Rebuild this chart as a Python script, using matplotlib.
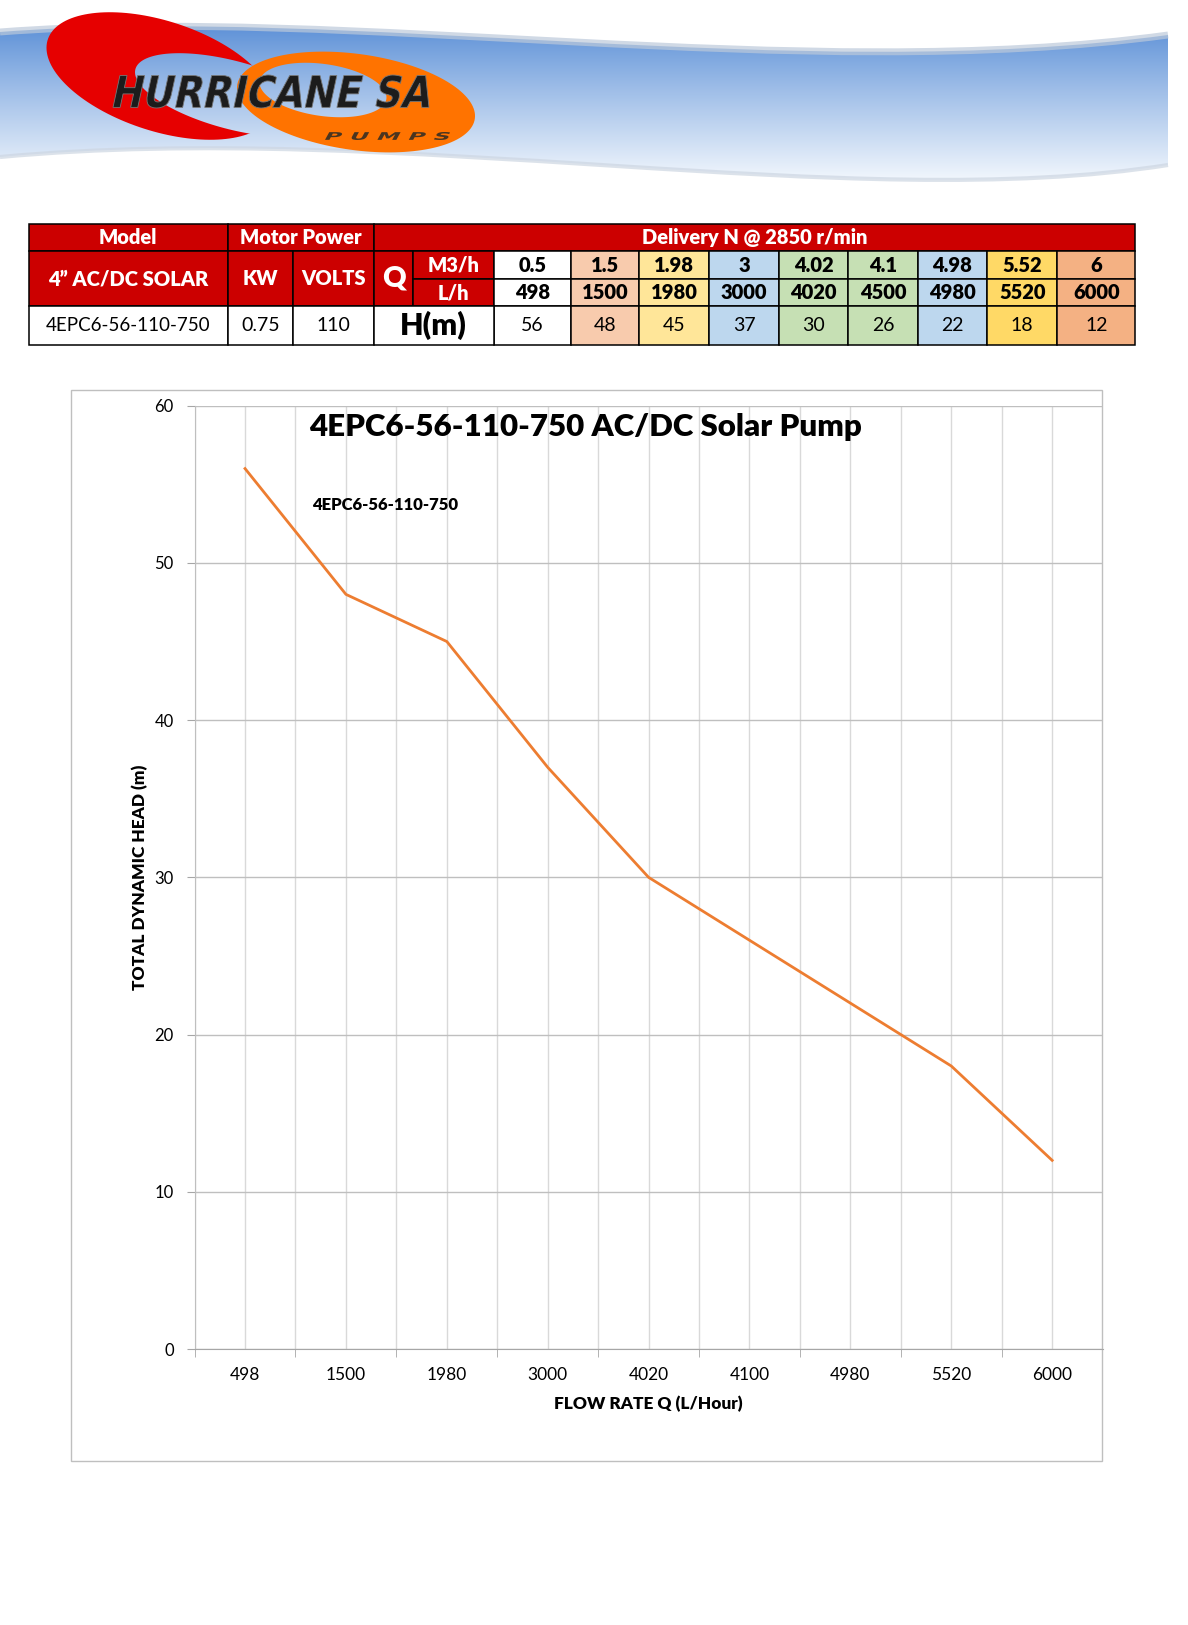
import numpy as np
import matplotlib.pyplot as plt
from matplotlib.patches import Rectangle, PathPatch, Polygon
from matplotlib.path import Path
from matplotlib.textpath import TextPath
from matplotlib.font_manager import FontProperties
from matplotlib.transforms import Affine2D

plt.rcParams['font.family'] = ['Lato', 'DejaVu Sans']

# data
model = '4EPC6-56-110-750'
kw = '0.75'
volts = '110'
flow_m3h = ['0.5', '1.5', '1.98', '3', '4.02', '4.1', '4.98', '5.52', '6']
flow_lh = ['498', '1500', '1980', '3000', '4020', '4500', '4980', '5520', '6000']
head_m = [56, 48, 45, 37, 30, 26, 22, 18, 12]
chart_flow = ['498', '1500', '1980', '3000', '4020', '4100', '4980', '5520', '6000']
col_colors = ['#FFFFFF', '#F8CBAD', '#FFE699', '#BDD7EE', '#C6E0B4',
              '#C6E0B4', '#BDD7EE', '#FFD966', '#F4B183']

W, H = 1188, 1625
RED = '#CC0000'

fig = plt.figure(figsize=(W / 100, H / 100), dpi=100)
bg = fig.add_axes([0, 0, 1, 1])
bg.set_xlim(0, W)
bg.set_ylim(H, 0)
bg.axis('off')

# --- banner ---
verts = [(0, 32), (350, 5), (800, 85), (1168, 35),
         (1168, 165), (850, 215), (400, 120), (0, 157), (0, 32)]
codes = [Path.MOVETO, Path.CURVE4, Path.CURVE4, Path.CURVE4,
         Path.LINETO, Path.CURVE4, Path.CURVE4, Path.CURVE4, Path.CLOSEPOLY]
wave = Path(verts, codes)
g = np.linspace(0, 1, 256)[:, None] ** 0.9
c0 = np.array([0.31, 0.53, 0.83])
c1 = np.array([0.98, 0.99, 1.0])
img = c0 + (c1 - c0) * g[..., None]
im = bg.imshow(img, extent=(0, 1168, 190, 15), aspect='auto', zorder=1)
im.set_clip_path(PathPatch(wave, transform=bg.transData))
edge_top = Path(verts[:4], codes[:4])
edge_bot = Path(verts[4:8], [Path.MOVETO] + codes[5:8])
bg.add_patch(PathPatch(edge_top, fill=False, ec='#bcc9da', lw=5, alpha=0.7, zorder=2))
bg.add_patch(PathPatch(edge_bot, fill=False, ec='#cdd6e2', lw=3, alpha=0.7, zorder=2))
bg.set_xlim(0, W)
bg.set_ylim(H, 0)


def ellipse_pts(cx, cy, a, b, ang, rev=False):
    t = np.linspace(0, 2 * np.pi, 150)
    if rev:
        t = t[::-1]
    p = np.radians(ang)
    x = cx + a * np.cos(t) * np.cos(p) - b * np.sin(t) * np.sin(p)
    y = cy + a * np.cos(t) * np.sin(p) + b * np.sin(t) * np.cos(p)
    return np.column_stack([x, y])


def crescent(outer, hole, color):
    poly = Polygon(ellipse_pts(*outer), closed=True, fc=color, ec='none', zorder=3)
    bg.add_patch(poly)
    box = np.array([(0, 0), (W, 0), (W, H), (0, H), (0, 0)])
    hp = ellipse_pts(*hole, rev=True)
    v = np.vstack([box, hp])
    c = [Path.MOVETO] + [Path.LINETO] * 3 + [Path.CLOSEPOLY] + \
        [Path.MOVETO] + [Path.LINETO] * (len(hp) - 2) + [Path.CLOSEPOLY]
    poly.set_clip_path(PathPatch(Path(v, c), transform=bg.transData))


crescent((356, 102, 120, 48, 8), (323, 90, 64, 26, 8), '#FF7300')
crescent((160, 76, 118, 55, 18), (232, 95, 100, 34, 15), '#E60000')


def fit_text(s, x0, y0, x1, y1, color, ec, slant=14):
    fp = FontProperties(family='DejaVu Sans', weight='bold')
    p = TextPath((0, 0), s, size=10, prop=fp)
    p = Affine2D().skew_deg(slant, 0).transform_path(p)
    bb = p.get_extents()
    tr = Affine2D().translate(-bb.x0, -bb.y0) \
        .scale((x1 - x0) / bb.width, -(y1 - y0) / bb.height).translate(x0, y1)
    bg.add_patch(PathPatch(tr.transform_path(p), fc=color, ec=ec, lw=0.6, zorder=4))


fit_text('HURRICANE SA', 113, 75, 429, 108, '#1c1c1c', '#777777')
fit_text('P U M P S', 325, 132, 450, 140, '#4a3520', 'none')

# --- table ---
xs = [28.7, 227.7, 292.8, 373.9, 413.3, 493.7, 571, 639.3, 709.1, 778.9,
      848.3, 917.7, 987.1, 1057.3, 1135.3]
ys = [224, 251.3, 279, 306, 345.3]


def cell(x0, x1, y0, y1, fc, text='', color='black', size=13.5, weight='normal'):
    bg.add_patch(Rectangle((x0, y0), x1 - x0, y1 - y0, fc=fc, ec='black', lw=1.1, zorder=2))
    if text:
        bg.text((x0 + x1) / 2, (y0 + y1) / 2, text, ha='center', va='center',
                color=color, fontsize=size, fontweight=weight, zorder=3)


hdr = dict(color='white', weight='heavy', size=14.5)
cell(xs[0], xs[1], ys[0], ys[1], RED, 'Model', **hdr)
cell(xs[1], xs[3], ys[0], ys[1], RED, 'Motor Power', **hdr)
cell(xs[3], xs[-1], ys[0], ys[1], RED, 'Delivery N @ 2850 r/min', **hdr)
cell(xs[0], xs[1], ys[1], ys[3], RED, '4\u201d AC/DC SOLAR', **hdr)
cell(xs[1], xs[2], ys[1], ys[3], RED, 'KW', **hdr)
cell(xs[2], xs[3], ys[1], ys[3], RED, 'VOLTS', **hdr)
cell(xs[3], xs[4], ys[1], ys[3], RED, 'Q', color='white', weight='heavy', size=21)
cell(xs[4], xs[5], ys[1], ys[2], RED, 'M3/h', **hdr)
cell(xs[4], xs[5], ys[2], ys[3], RED, 'L/h', **hdr)
for i in range(len(flow_m3h)):
    cell(xs[5 + i], xs[6 + i], ys[1], ys[2], col_colors[i], flow_m3h[i], size=14.5, weight='heavy')
    cell(xs[5 + i], xs[6 + i], ys[2], ys[3], col_colors[i], flow_lh[i], size=14.5, weight='heavy')
    cell(xs[5 + i], xs[6 + i], ys[3], ys[4], col_colors[i], str(head_m[i]), size=14)
cell(xs[0], xs[1], ys[3], ys[4], 'white', model)
cell(xs[1], xs[2], ys[3], ys[4], 'white', kw, size=14)
cell(xs[2], xs[3], ys[3], ys[4], 'white', volts, size=14)
cell(xs[3], xs[5], ys[3], ys[4], 'white', 'H(m)', size=22, weight='heavy')

# --- chart ---
bg.add_patch(Rectangle((70.5, 390), 1031.5, 1071, fill=False, ec='#bfbfbf', lw=1.0))

L, R, T, B = 194.6, 1102.6, 405.7, 1349
ax = fig.add_axes([L / W, 1 - B / H, (R - L) / W, (B - T) / H])
ax.set_facecolor('none')
x = np.arange(len(head_m))
ax.plot(x, head_m, color='#ED7D31', lw=2, zorder=3)
ax.set_xlim(-0.5, len(x) - 0.5)
ax.set_ylim(0, 60)
ax.set_yticks(range(0, 61, 10))
ax.set_xticks(x, chart_flow)
ax.set_xticks(np.arange(-0.5, len(x) - 1), minor=True)
ax.tick_params(axis='x', which='major', length=0, pad=13, labelsize=12.5)
ax.tick_params(axis='x', which='minor', length=6, color='#a6a6a6')
ax.tick_params(axis='y', length=6, color='#a6a6a6', pad=9, labelsize=12)
ax.grid(axis='y', color='#bfbfbf', lw=1)
ax.grid(axis='x', which='both', color='#d9d9d9', lw=1)
ax.set_axisbelow(True)
for s in ['top', 'right']:
    ax.spines[s].set_visible(False)
ax.spines['left'].set_color('#bfbfbf')
ax.spines['bottom'].set_color('#a6a6a6')

ax.set_xlabel('FLOW RATE Q (L/Hour)', fontsize=12.4, fontweight='heavy', va='center')
ax.xaxis.set_label_coords(0.5, (B - 1404) / (B - T))
ax.set_ylabel('TOTAL DYNAMIC HEAD (m)', fontsize=12.4, fontweight='heavy', va='center', ha='center')
ax.yaxis.set_label_coords((140 - L) / (R - L), 0.5)

ax.text((586 - L) / (R - L), (B - 427) / (B - T), '4EPC6-56-110-750 AC/DC Solar Pump',
        transform=ax.transAxes, ha='center', va='center', fontsize=22.5, fontweight='heavy')
ax.text((311.7 - L) / (R - L), (B - 504.5) / (B - T), model,
        transform=ax.transAxes, ha='left', va='center', fontsize=12, fontweight='heavy')

fig.savefig('out.png', dpi=100)
